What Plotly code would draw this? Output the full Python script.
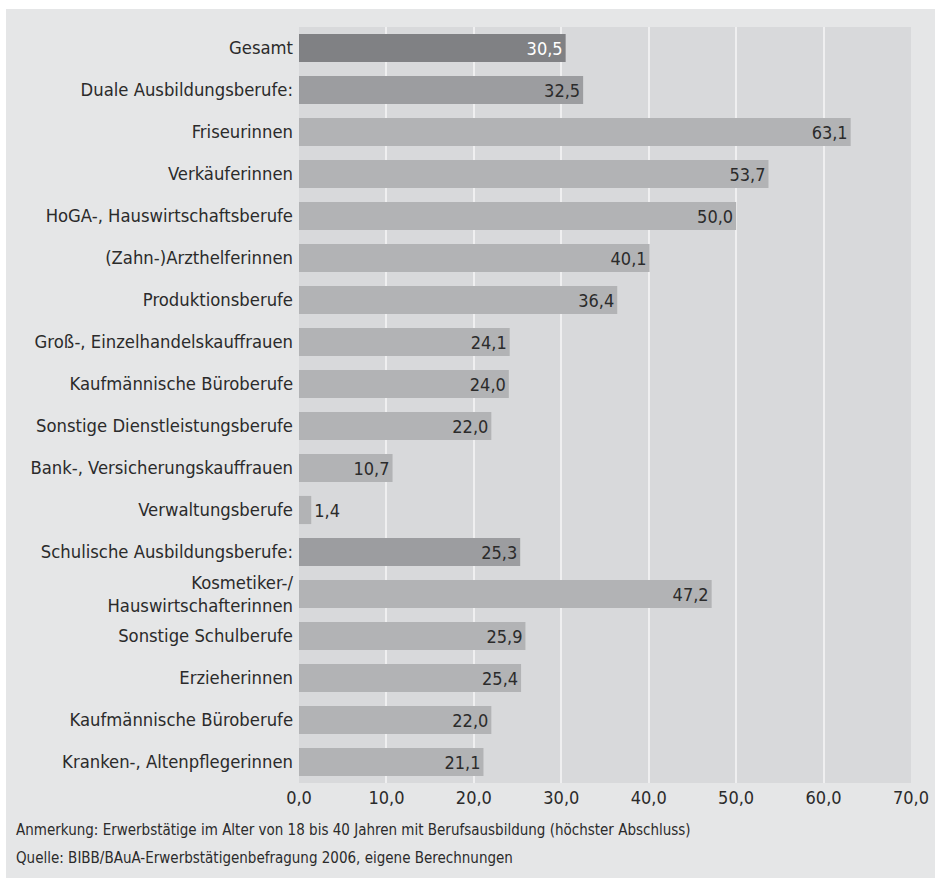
import plotly.graph_objects as go

categories = [
    "Gesamt",
    "Duale Ausbildungsberufe:",
    "Friseurinnen",
    "Verkäuferinnen",
    "HoGA-, Hauswirtschaftsberufe",
    "(Zahn-)Arzthelferinnen",
    "Produktionsberufe",
    "Groß-, Einzelhandelskauffrauen",
    "Kaufmännische Büroberufe",
    "Sonstige Dienstleistungsberufe",
    "Bank-, Versicherungskauffrauen",
    "Verwaltungsberufe",
    "Schulische Ausbildungsberufe:",
    "Kosmetiker-/<br>Hauswirtschafterinnen",
    "Sonstige Schulberufe",
    "Erzieherinnen",
    "Kaufmännische Büroberufe",
    "Kranken-, Altenpflegerinnen",
]
values = [30.5, 32.5, 63.1, 53.7, 50.0, 40.1, 36.4, 24.1, 24.0, 22.0, 10.7, 1.4,
          25.3, 47.2, 25.9, 25.4, 22.0, 21.1]
levels = ["total", "group", "item", "item", "item", "item", "item", "item", "item",
          "item", "item", "item", "group", "item", "item", "item", "item", "item"]
x_ticks = [0, 10, 20, 30, 40, 50, 60, 70]
note = "Anmerkung: Erwerbstätige im Alter von 18 bis 40 Jahren mit Berufsausbildung (höchster Abschluss)"
source = "Quelle: BIBB/BAuA-Erwerbstätigenbefragung 2006, eigene Berechnungen"

FONT = "Liberation Sans Narrow, Arial Narrow, DejaVu Sans Condensed, sans-serif"
TXT = "#2b2b2b"
bar_colors = {"total": "#808184", "group": "#9c9da0", "item": "#b2b3b5"}
label_colors = {"total": "#ffffff", "group": TXT, "item": TXT}

fmt = lambda v: f"{v:.1f}".replace(".", ",")
ypos = list(range(len(categories)))

fig = go.Figure()
fig.add_trace(go.Bar(
    x=values,
    y=ypos,
    orientation="h",
    width=0.67,
    marker=dict(color=[bar_colors[l] for l in levels], line=dict(width=0)),
    text=[fmt(v) for v in values],
    textposition="auto",
    insidetextanchor="end",
    textfont=dict(family=FONT, size=18, color=[label_colors[l] for l in levels]),
    outsidetextfont=dict(family=FONT, size=18, color=TXT),
    cliponaxis=False,
    hoverinfo="skip",
))

fig.update_layout(
    width=935,
    height=878,
    margin=dict(l=299, r=24, t=27, b=95, autoexpand=False),
    paper_bgcolor="#e5e6e7",
    plot_bgcolor="#d8d9db",
    showlegend=False,
    font=dict(family=FONT, color=TXT),
    xaxis=dict(
        range=[0, 70],
        tickvals=x_ticks,
        ticktext=[fmt(t) for t in x_ticks],
        tickfont=dict(family=FONT, size=18, color=TXT),
        showgrid=True,
        gridcolor="#efeff0",
        gridwidth=2,
        zeroline=False,
        showline=False,
        ticks="",
        ticklabelstandoff=2,
        automargin=False,
        fixedrange=True,
    ),
    yaxis=dict(
        range=[len(categories) - 0.5, -0.5],
        tickvals=ypos,
        ticktext=categories,
        tickfont=dict(family=FONT, size=18.3, color=TXT),
        showgrid=False,
        zeroline=False,
        showline=False,
        ticks="",
        ticklabelstandoff=5,
        automargin=False,
        fixedrange=True,
    ),
    shapes=[
        dict(type="rect", xref="paper", yref="paper", x0=-0.6, x1=1.1,
             y0=(783 - 9) / 756, y1=1.1, fillcolor="#ffffff", line=dict(width=0), layer="below"),
        dict(type="rect", xref="paper", yref="paper", x0=-0.6, x1=(6 - 299) / 612,
             y0=-0.2, y1=1.1, fillcolor="#ffffff", line=dict(width=0), layer="below"),
    ],
    annotations=[
        dict(text=note, xref="paper", yref="paper", x=(14 - 299) / 612, y=(783 - 830) / 756,
             xanchor="left", yanchor="middle", showarrow=False,
             font=dict(family=FONT, size=15, color=TXT)),
        dict(text=source, xref="paper", yref="paper", x=(14 - 299) / 612, y=(783 - 858) / 756,
             xanchor="left", yanchor="middle", showarrow=False,
             font=dict(family=FONT, size=15, color=TXT)),
    ],
)

fig.write_html("out.html")
